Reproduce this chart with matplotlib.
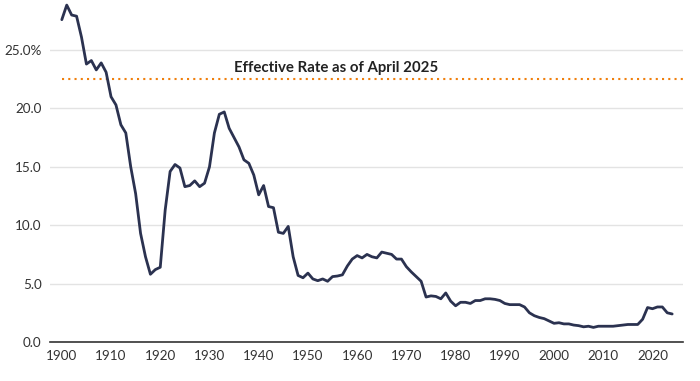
import matplotlib
matplotlib.use("Agg")
import matplotlib.pyplot as plt
import numpy as np

years = list(range(1900, 2025))
rates = [
    27.6, 28.85, 28.0, 27.9, 26.1, 23.8, 24.1, 23.3, 23.9, 23.1,
    21.0, 20.3, 18.6, 17.9, 15.0, 12.7, 9.3, 7.3, 5.8, 6.2,
    6.4, 11.3, 14.6, 15.2, 14.9, 13.3, 13.4, 13.8, 13.3, 13.6,
    15.0, 17.9, 19.5, 19.7, 18.3, 17.5, 16.7, 15.6, 15.3, 14.3,
    12.6, 13.4, 11.6, 11.5, 9.4, 9.3, 9.9, 7.3, 5.7, 5.5,
    5.9, 5.4, 5.25, 5.4, 5.2, 5.6, 5.65, 5.75, 6.5, 7.1,
    7.4, 7.2, 7.5, 7.3, 7.2, 7.7, 7.6, 7.5, 7.1, 7.1,
    6.45, 6.0, 5.6, 5.2, 3.85, 3.95, 3.9, 3.7, 4.2, 3.5,
    3.1, 3.4, 3.4, 3.3, 3.55, 3.55, 3.7, 3.7, 3.65, 3.55,
    3.3, 3.2, 3.2, 3.2, 3.0, 2.5, 2.25, 2.1, 2.0, 1.8,
    1.6, 1.65, 1.55, 1.55, 1.45, 1.4, 1.3, 1.35, 1.25, 1.35,
    1.35, 1.35, 1.35, 1.4, 1.45, 1.5, 1.5, 1.5, 1.95, 2.95,
    2.85, 3.0, 3.0, 2.5, 2.4,
]
current_rate = 22.5
current_label = "Effective Rate as of April 2025"
xticks = [1900, 1910, 1920, 1930, 1940, 1950, 1960, 1970, 1980, 1990, 2000, 2010, 2020]
yticks = [0, 5, 10, 15, 20, 25]
ytick_labels = ["0.0", "5.0", "10.0", "15.0", "20.0", "25.0%"]

plt.rcParams['font.family'] = ['Lato', 'DejaVu Sans']

fig = plt.figure(figsize=(7.0, 3.81), dpi=100)
ax = fig.add_axes([50 / 700, 39 / 381, 633 / 700, 341 / 381])

ax.set_xlim(1897.6, 2026.2)
ax.set_ylim(0, 29.2)

ax.set_yticks(yticks)
ax.set_yticklabels(ytick_labels)
ax.set_xticks(xticks)
ax.grid(axis='y', color='#e3e3e3', linewidth=1.0)
ax.set_axisbelow(True)
ax.tick_params(axis='both', length=0, labelsize=9.7, colors='#333333')
ax.tick_params(axis='y', pad=6)
ax.tick_params(axis='x', pad=6)
for s in ['left', 'right', 'top']:
    ax.spines[s].set_visible(False)
ax.spines['bottom'].set_color('#333333')
ax.spines['bottom'].set_linewidth(1.2)

ax.plot([years[0], 2026.2], [current_rate, current_rate], color='#f07f0c',
        linewidth=1.5, linestyle=(0, (1, 2)), zorder=2)
ax.text(1955.7, current_rate + 0.95, current_label, ha='center', va='center',
        fontsize=10.8, fontweight='bold', color='#222222')

ax.plot(years, rates, color='#2b3250', linewidth=2.0, solid_joinstyle='round',
        solid_capstyle='round', zorder=3)

fig.savefig("out.png", dpi=100)
